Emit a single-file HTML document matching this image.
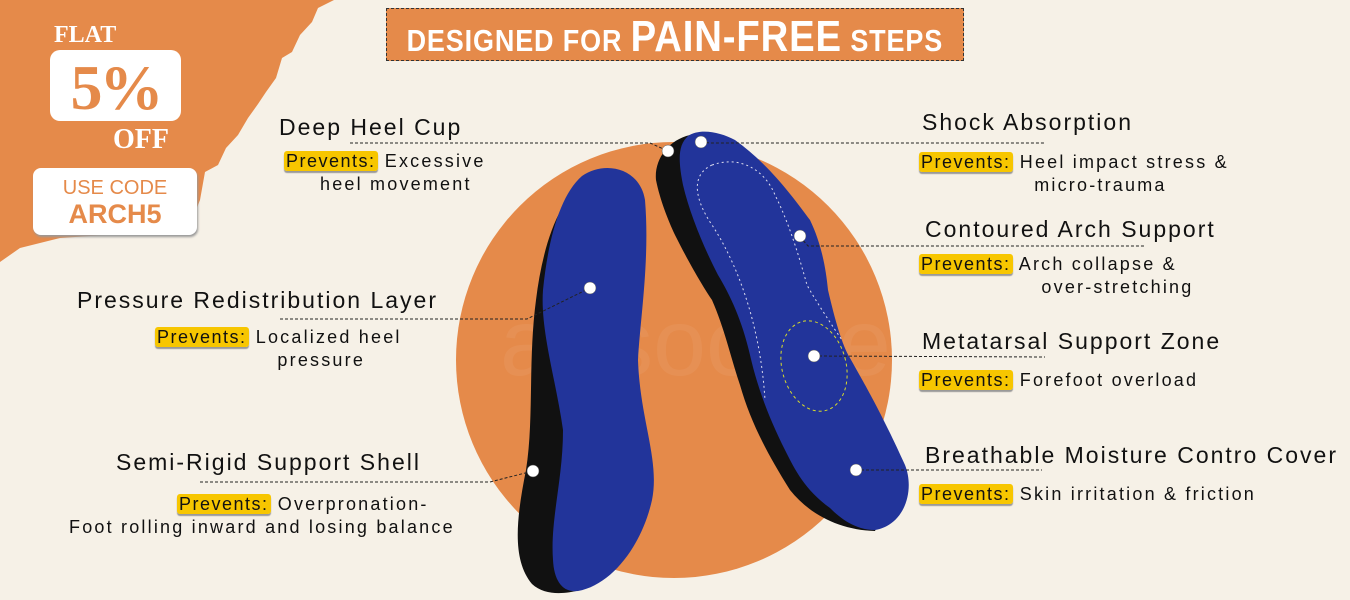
<!DOCTYPE html>
<html><head><meta charset="utf-8"><style>
body{margin:0;width:1350px;height:600px;overflow:hidden;background:#f6f1e7;font-family:"Liberation Sans",sans-serif;position:relative}
.a{position:absolute;white-space:nowrap}
.t{font-size:23px;letter-spacing:2px;color:#111}
.p{font-size:18px;letter-spacing:2.2px;color:#111;line-height:23px}
.y{background:#f7c600;border-radius:3px;padding:0 2px;box-shadow:0 2px 1px #999;letter-spacing:1.5px}
</style></head><body>
<svg class="a" style="left:0;top:0" width="1350" height="600">
<path d="M0 0 L334 0 L318 8 L312 22 L300 35 L292 52 L282 58 L276 78 L266 92 L258 104 L248 118 L238 135 L226 148 L218 165 L205 172 L200 200 L190 225 L150 232 L60 238 L20 248 L0 262 Z" fill="#e58a4a"/>
<circle cx="674" cy="360" r="218" fill="#e58a4a"/>
<text x="500" y="375" font-family="Liberation Sans" font-size="95" fill="#fff" fill-opacity="0.06">absocare</text>
<path d="M588 182 C558 195 542 250 536 300 C528 360 534 420 526 470 C516 520 512 560 532 584 C545 596 565 594 580 590 L600 560 L570 300 Z" fill="#111"/>
<path d="M582 176 C605 160 640 168 645 200 C650 260 640 320 638 360 C640 420 660 460 652 500 C642 545 612 585 578 591 C562 593 554 580 553 560 C550 520 563 480 563 430 C556 380 540 330 543 290 C548 240 560 195 582 176Z" fill="#22349a"/>
<path d="M690 135 C668 140 654 160 656 180 C660 200 668 220 675 235 C690 265 705 290 712 300 C725 330 730 355 740 385 C750 420 765 450 790 490 C810 515 840 530 875 531 L880 520 L700 150Z" fill="#111"/>
<path d="M688 136 C700 128 720 132 735 140 C770 165 795 200 810 220 C822 245 826 270 828 290 C835 320 842 345 850 358 C865 385 880 410 905 465 C915 490 905 525 875 530 C855 530 840 518 830 508 C805 490 795 470 785 450 C770 420 758 390 750 355 C742 320 730 295 718 275 C705 250 690 215 683 185 C678 160 678 145 688 136Z" fill="#22349a"/>
<path d="M712 165 C690 175 695 200 712 225 C735 260 760 320 765 400" stroke="#dde" stroke-dasharray="2 3" fill="none"/>
<path d="M712 165 C740 155 765 170 775 195 C790 225 800 260 807 285 C815 300 835 330 842 340" stroke="#dde" stroke-dasharray="2 3" fill="none"/>
<ellipse cx="814" cy="366" rx="32" ry="46" transform="rotate(-15 814 366)" stroke="#d8dc2a" stroke-dasharray="3 3" fill="none"/>
<g stroke="#222" stroke-dasharray="3 2" fill="none" stroke-width="1">
<path d="M350 143 L650 143 L668 151"/>
<path d="M280 319 L527 319 L590 288"/>
<path d="M200 482 L490 482 L533 471"/>
<path d="M701 142 L710 143 L1045 143"/>
<path d="M800 237 L808 246 L1145 246"/>
<path d="M814 356 L1045 357"/>
<path d="M856 470 L1042 470"/>
</g>
<g fill="#fff" stroke="#555" stroke-width="0.5">
<circle cx="701" cy="142" r="6"/><circle cx="668" cy="151" r="6"/><circle cx="800" cy="236" r="6"/><circle cx="814" cy="356" r="6"/><circle cx="856" cy="470" r="6"/><circle cx="590" cy="288" r="6"/><circle cx="533" cy="471" r="6"/></g>
</svg>
<div class="a" style="left:54px;top:22px;font:bold 24px 'Liberation Serif',serif;color:#fff">FLAT</div>
<div class="a" style="left:50px;top:50px;width:131px;height:71px;background:#fff;border-radius:10px;text-align:center;font:bold 64px 'Liberation Serif',serif;color:#e58a4a;line-height:76px;letter-spacing:-3px">5%</div>
<div class="a" style="left:113px;top:124px;font:bold 28px 'Liberation Serif',serif;color:#fff">OFF</div>
<div class="a" style="left:33px;top:168px;width:164px;height:67px;background:#fff;border-radius:8px;box-shadow:1px 2px 2px #999;text-align:center;color:#e58a4a;font-size:20px;line-height:22px;padding-top:9px;box-sizing:border-box">USE CODE<br><b style="font-size:27px;line-height:30px">ARCH5</b></div>
<div class="a" style="left:386px;top:8px;width:578px;height:53px;background:#e58a4a;border:1px dashed #333;box-sizing:border-box;overflow:hidden">
<div style="position:absolute;left:-18px;top:0;width:578px;text-align:center;color:#fff;line-height:56px;font-size:31px;transform:scaleX(0.87);letter-spacing:1px;font-weight:bold;white-space:nowrap">DESIGNED FOR <span style="font-size:44px">PAIN-FREE</span> STEPS</div></div>

<div class="a t" style="left:279px;top:114px">Deep Heel Cup</div>
<div class="a p" style="left:284px;top:150px"><span class="y">Prevents:</span> Excessive<br>&nbsp;&nbsp;&nbsp;&nbsp;&nbsp;heel movement</div>

<div class="a t" style="left:77px;top:287px">Pressure Redistribution Layer</div>
<div class="a p" style="left:155px;top:326px"><span class="y">Prevents:</span> Localized heel<br>&nbsp;&nbsp;&nbsp;&nbsp;&nbsp;&nbsp;&nbsp;&nbsp;&nbsp;&nbsp;&nbsp;&nbsp;&nbsp;&nbsp;&nbsp;&nbsp;&nbsp;pressure</div>

<div class="a t" style="left:116px;top:449px">Semi-Rigid Support Shell</div>
<div class="a p" style="left:69px;top:493px">&nbsp;&nbsp;&nbsp;&nbsp;&nbsp;&nbsp;&nbsp;&nbsp;&nbsp;&nbsp;&nbsp;&nbsp;&nbsp;&nbsp;&nbsp;<span class="y">Prevents:</span> Overpronation-<br>Foot rolling inward and losing balance</div>

<div class="a t" style="left:922px;top:109px">Shock Absorption</div>
<div class="a p" style="left:919px;top:151px"><span class="y">Prevents:</span> Heel impact stress &amp;<br>&nbsp;&nbsp;&nbsp;&nbsp;&nbsp;&nbsp;&nbsp;&nbsp;&nbsp;&nbsp;&nbsp;&nbsp;&nbsp;&nbsp;&nbsp;&nbsp;micro-trauma</div>

<div class="a t" style="left:925px;top:216px">Contoured Arch Support</div>
<div class="a p" style="left:919px;top:253px"><span class="y">Prevents:</span> Arch collapse &amp;<br>&nbsp;&nbsp;&nbsp;&nbsp;&nbsp;&nbsp;&nbsp;&nbsp;&nbsp;&nbsp;&nbsp;&nbsp;&nbsp;&nbsp;&nbsp;&nbsp;&nbsp;over-stretching</div>

<div class="a t" style="left:922px;top:328px">Metatarsal Support Zone</div>
<div class="a p" style="left:919px;top:369px"><span class="y">Prevents:</span> Forefoot overload</div>

<div class="a t" style="left:925px;top:442px">Breathable Moisture Contro Cover</div>
<div class="a p" style="left:919px;top:483px"><span class="y">Prevents:</span> Skin irritation &amp; friction</div>
</body></html>
